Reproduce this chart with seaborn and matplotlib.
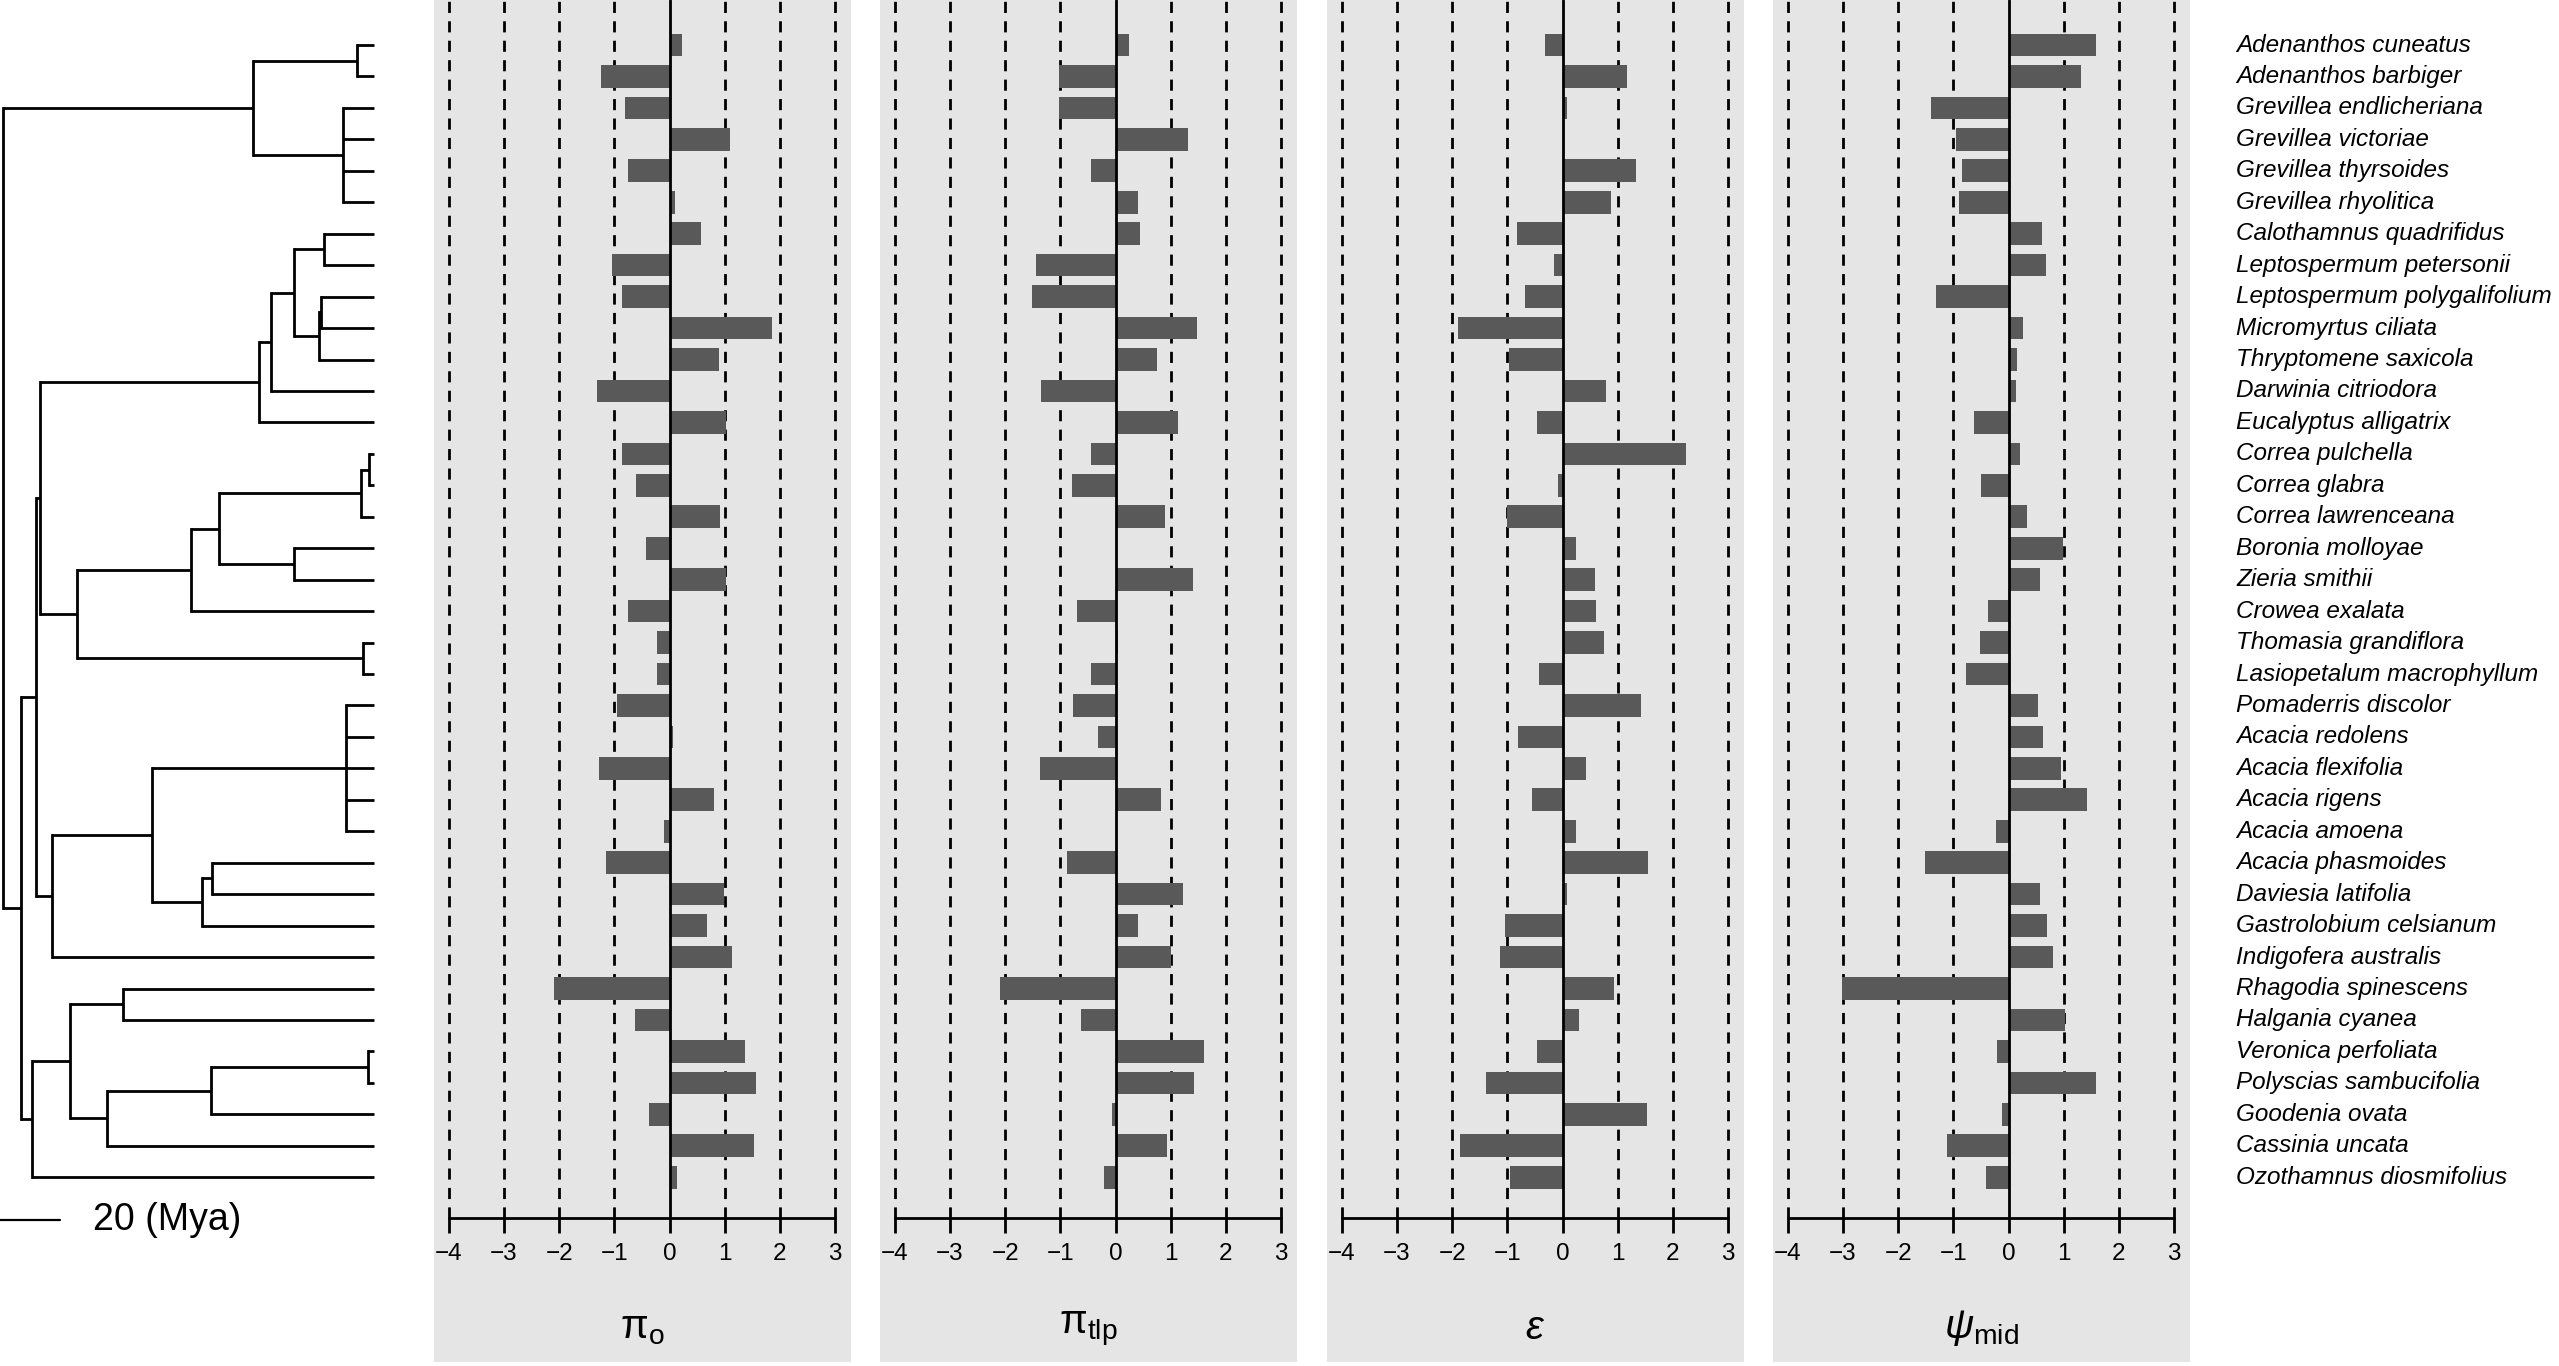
import numpy as np
import pandas as pd
import matplotlib
matplotlib.use("Agg")
import matplotlib.pyplot as plt
import matplotlib.transforms as mtransforms
from matplotlib.patches import Rectangle
import seaborn as sns

# species in plotting order (top to bottom)
species = [
    "Adenanthos cuneatus", "Adenanthos barbiger", "Grevillea endlicheriana",
    "Grevillea victoriae", "Grevillea thyrsoides", "Grevillea rhyolitica",
    "Calothamnus quadrifidus", "Leptospermum petersonii", "Leptospermum polygalifolium",
    "Micromyrtus ciliata", "Thryptomene saxicola", "Darwinia citriodora",
    "Eucalyptus alligatrix", "Correa pulchella", "Correa glabra",
    "Correa lawrenceana", "Boronia molloyae", "Zieria smithii",
    "Crowea exalata", "Thomasia grandiflora", "Lasiopetalum macrophyllum",
    "Pomaderris discolor", "Acacia redolens", "Acacia flexifolia",
    "Acacia rigens", "Acacia amoena", "Acacia phasmoides",
    "Daviesia latifolia", "Gastrolobium celsianum", "Indigofera australis",
    "Rhagodia spinescens", "Halgania cyanea", "Veronica perfoliata",
    "Polyscias sambucifolia", "Goodenia ovata", "Cassinia uncata",
    "Ozothamnus diosmifolius",
]

pi_o = [0.22, -1.25, -0.81, 1.09, -0.75, 0.10, 0.57, -1.04, -0.86, 1.86,
        0.89, -1.31, 1.02, -0.86, -0.60, 0.92, -0.43, 1.03, -0.75, -0.22,
        -0.22, -0.95, 0.06, -1.27, 0.80, -0.10, -1.16, 0.98, 0.68, 1.13,
        -2.10, -0.63, 1.36, 1.57, -0.37, 1.53, 0.13]

pi_tlp = [0.24, -1.02, -1.02, 1.31, -0.45, 0.40, 0.45, -1.44, -1.51, 1.48,
          0.75, -1.36, 1.13, -0.45, -0.79, 0.90, 0.02, 1.41, -0.70, 0.05,
          -0.44, -0.77, -0.32, -1.37, 0.82, 0.01, -0.88, 1.22, 0.40, 1.01,
          -2.10, -0.62, 1.60, 1.43, -0.07, 0.94, -0.21]

epsilon = [-0.31, 1.17, 0.08, 0.03, 1.34, 0.87, -0.82, -0.15, -0.68, -1.89,
           -0.97, 0.78, -0.47, 2.24, -0.08, -1.01, 0.24, 0.58, 0.60, 0.76,
           -0.42, 1.43, -0.80, 0.42, -0.56, 0.25, 1.55, 0.08, -1.05, -1.14,
           0.94, 0.29, -0.47, -1.39, 1.54, -1.86, -0.96]

psi_mid = [1.58, 1.32, -1.41, -0.96, -0.85, -0.89, 0.60, 0.68, -1.31, 0.26,
           0.16, 0.13, -0.62, 0.21, -0.49, 0.33, 0.98, 0.57, -0.38, -0.51,
           -0.77, 0.53, 0.63, 0.96, 1.43, -0.23, -1.52, 0.57, 0.70, 0.81,
           -3.02, 1.03, -0.21, 1.58, -0.12, -1.11, -0.41]

panel_titles = [r"$\mathrm{\pi}_\mathrm{o}$", r"$\mathrm{\pi}_\mathrm{tlp}$",
                r"$\varepsilon$", r"$\psi_\mathrm{mid}$"]
x_ticks = list(range(-4, 4))

# phylogeny: internal node = (depth from root in Mya, children); tip = row index
tip_depth = 123.8
tree = (0.0, [
    (83.3, [(118.0, [0, 1]), (113.5, [2, 3, 4, 5])]),
    (6.1, [
        (11.0, [
            (12.4, [
                (85.4, [(89.4, [(97.1, [(107.0, [6, 7]),
                                        (105.5, [(106.1, [8, 9]), 10])]),
                                11]),
                        12]),
                (24.8, [(62.7, [(72.1, [(119.3, [(122.2, [13, 14]), 15]),
                                        (97.2, [16, 17])]),
                                18]),
                        (120.2, [19, 20])]),
            ]),
            (16.5, [(49.7, [(114.4, [21, 22, 23, 24, 25]),
                            (66.5, [(69.9, [26, 27]), 28])]),
                    29]),
        ]),
        (9.8, [(22.3, [(40.0, [30, 31]),
                       (34.8, [(69.4, [(121.7, [32, 33]), 34]), 35])]),
               36]),
    ]),
])
scale_len = 20

sns.set_theme(style="white")
plt.rcParams["font.family"] = ["Liberation Sans", "DejaVu Sans"]
plt.rcParams["mathtext.fontset"] = "custom"
plt.rcParams["mathtext.rm"] = "Liberation Sans"
plt.rcParams["mathtext.it"] = "Liberation Sans:italic"

W, H = 2559, 1366
fig = plt.figure(figsize=(W / 100, H / 100), dpi=100)
fig.patch.set_facecolor("white")

row0, row_step = 45, 31.45
n = len(species)
axis_y = 1218
y_top = -row0 / row_step
y_bot = (n - 1) + (axis_y - (row0 + (n - 1) * row_step)) / row_step

panel_left = [434, 880, 1327, 1773]
panel_w = 417
gray = "#e5e5e5"
lw_axis = 2.0

series = [pi_o, pi_tlp, epsilon, psi_mid]
axes = []
for left, vals, title in zip(panel_left, series, panel_titles):
    fig.patches.append(Rectangle((left / W, 4 / H), panel_w / W, 1 - 4 / H,
                                 transform=fig.transFigure, facecolor=gray,
                                 edgecolor="none", zorder=-5))
    ax = fig.add_axes([left / W, 1 - axis_y / H, panel_w / W, axis_y / H])
    ax.set_facecolor("none")
    df = pd.DataFrame({"species": species, "value": vals})
    sns.barplot(data=df, x="value", y="species", orient="h", color="#595959",
                saturation=1, width=0.72, errorbar=None, edgecolor="none",
                ax=ax, zorder=2)
    for t in x_ticks:
        if t != 0:
            ax.axvline(t, color="black", lw=lw_axis, ls=(0, (4.0, 3.0)), zorder=1)
    ax.axvline(0, color="black", lw=lw_axis, zorder=3)
    ax.set_xlim(-4.27, 3.29)
    ax.set_ylim(y_bot, y_top)
    ax.set_xticks(x_ticks)
    ax.set_yticks([])
    ax.set_xlabel("")
    ax.set_ylabel("")
    for s in ["left", "right", "top"]:
        ax.spines[s].set_visible(False)
    ax.spines["bottom"].set_bounds(-4, 3)
    ax.spines["bottom"].set_linewidth(lw_axis)
    ax.spines["bottom"].set_color("black")
    ax.tick_params(axis="x", bottom=True, length=11, width=lw_axis, direction="out",
                   labelsize=17.5, pad=7, colors="black")
    ax.text(0.5, -(1328 - axis_y) / axis_y, title, transform=ax.transAxes,
            ha="center", va="center", fontsize=29, color="black")
    axes.append(ax)

# tree
tree_ax = fig.add_axes([0, 0, 430 / W, 1])
tree_ax.set_xlim(-0.9, -0.9 + 430 / 3)
tree_ax.set_ylim(n - 1 + (H - (row0 + (n - 1) * row_step)) / row_step, y_top)
tree_ax.axis("off")
lw_tree = 2.0


def draw(node, parent_depth):
    if isinstance(node, int):
        tree_ax.plot([parent_depth, tip_depth], [node, node], color="black",
                     lw=lw_tree, solid_capstyle="butt")
        return node
    depth, kids = node
    ys = [draw(k, depth) for k in kids]
    y = (min(ys) + max(ys)) / 2
    tree_ax.plot([depth, depth], [min(ys), max(ys)], color="black", lw=lw_tree,
                 solid_capstyle="projecting")
    if parent_depth is not None:
        tree_ax.plot([parent_depth, depth], [y, y], color="black", lw=lw_tree,
                     solid_capstyle="butt")
    return y


draw(tree, None)

bar_y = (1220 - row0) / row_step
tree_ax.plot([-0.9, -0.9 + scale_len], [bar_y, bar_y], color="black", lw=1.6)
tree_ax.text(30.1, bar_y, f"{scale_len} (Mya)", ha="left", va="center",
             fontsize=27, color="black")

# species names
trans = mtransforms.blended_transform_factory(fig.transFigure, axes[-1].transData)
for i, name in enumerate(species):
    fig.text(2236 / W, i, name, transform=trans, ha="left", va="center",
             fontsize=17.5, style="italic", color="black")

fig.savefig("out.png", dpi=100)
